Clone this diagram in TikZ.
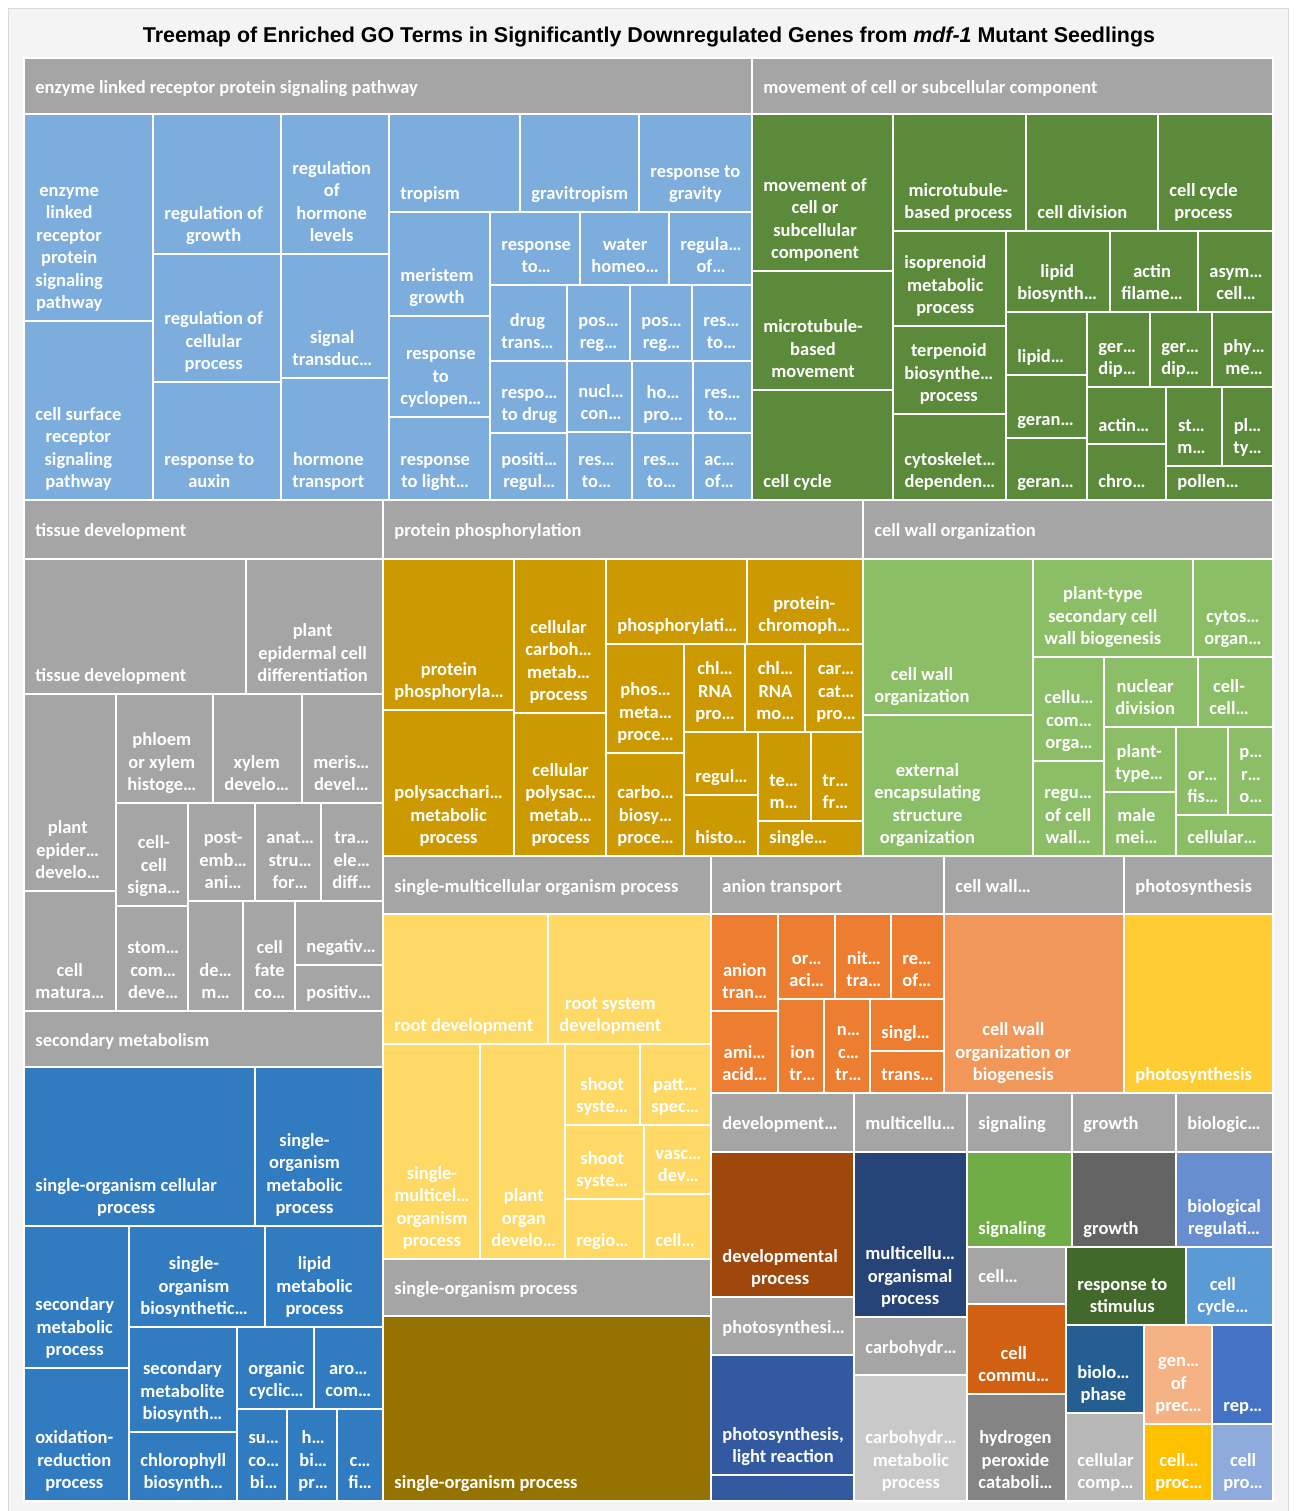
\documentclass[tikz,border=0pt]{standalone}
\usepackage{fontspec}
\setmainfont{Carlito}
\newfontfamily\titlefont{Liberation Sans}

\definecolor{panel}{HTML}{F4F4F4}
\definecolor{rim}{HTML}{D9D9D9}
\definecolor{hdr}{HTML}{A5A5A5}
\definecolor{lb}{HTML}{7CADDC}
\definecolor{dg}{HTML}{5B8A3B}
\definecolor{gold}{HTML}{CC9A00}
\definecolor{lg}{HTML}{8BBE67}
\definecolor{yel}{HTML}{FFD966}
\definecolor{org}{HTML}{ED7D31}
\definecolor{lorg}{HTML}{F1975A}
\definecolor{byel}{HTML}{FFCD33}
\definecolor{mb}{HTML}{317BC0}
\definecolor{olive}{HTML}{967300}
\definecolor{brown}{HTML}{9E480E}
\definecolor{dblue}{HTML}{264478}
\definecolor{pblue}{HTML}{335AA0}
\definecolor{lgray}{HTML}{C9C9C9}
\definecolor{sig}{HTML}{70AD47}
\definecolor{grw}{HTML}{636363}
\definecolor{breg}{HTML}{698ED0}
\definecolor{rstim}{HTML}{43682B}
\definecolor{ccyc}{HTML}{5B9BD5}
\definecolor{comm}{HTML}{D26012}
\definecolor{hperox}{HTML}{848484}
\definecolor{bphase}{HTML}{255E91}
\definecolor{ccomp}{HTML}{B7B7B7}
\definecolor{gprec}{HTML}{F4B183}
\definecolor{rep}{HTML}{4472C4}
\definecolor{cproc}{HTML}{FFC000}
\definecolor{cpro}{HTML}{8FAADC}

\tikzset{
  tilebox/.style={draw=white, line width=1pt},
  tiletext/.style={text=white, inner sep=0pt, align=center,
    font=\bfseries\fontsize{9.25}{11.25}\selectfont},
}
\newcount\tileno
\def\leaf[#1](#2,#3)(#4,#5)#6{\global\advance\tileno by 1
  \draw[tilebox, fill=#1] (#2,#3) rectangle (#4,#5);
  \node[tiletext, anchor=south west] (leaf\the\tileno) at (#2+11,#5-6) {#6\rule[-3pt]{0pt}{3pt}};}
\def\branch(#1,#2)(#3,#4)#5{\global\advance\tileno by 1
  \draw[tilebox, fill=hdr] (#1,#2) rectangle (#3,#4);
  \node[tiletext, anchor=base west] (branch\the\tileno) at (#1+11,{(#2+#4)/2+7}) {#5};}

\begin{document}
\begin{tikzpicture}[x=0.5pt, y=-0.5pt]
			%%%%% START %%%%%
			\useasboundingbox (0,0) rectangle (1296,1511);
			\draw[fill=panel, draw=rim] (8,8) rectangle (1288,1520);
			\node[anchor=base] (title) at (649,42) {\titlefont\bfseries\fontsize{10.72}{13}\selectfont Treemap of Enriched GO Terms in Significantly Downregulated Genes from \textit{mdf-1} Mutant Seedlings};
			
			%%%%% enzyme linked receptor protein signaling pathway %%%%%
			\branch(24,58)(752,114){enzyme linked receptor protein signaling pathway}
			\leaf[lb](24,114)(153,321){enzyme\\linked\\receptor\\protein\\signaling\\pathway}
			\leaf[lb](24,321)(153,500){cell surface\\receptor\\signaling\\pathway}
			\leaf[lb](153,114)(281,254){regulation of\\growth}
			\leaf[lb](153,254)(281,382){regulation of\\cellular\\process}
			\leaf[lb](153,382)(281,500){response to\\auxin}
			\leaf[lb](281,114)(389,254){regulation\\of\\hormone\\levels}
			\leaf[lb](281,254)(389,378){signal\\transduc…}
			\leaf[lb](281,378)(389,500){hormone\\transport}
			\leaf[lb](389,114)(520,212){tropism}
			\leaf[lb](520,114)(639,212){gravitropism}
			\leaf[lb](639,114)(752,212){response to\\gravity}
			\leaf[lb](389,212)(490,316){meristem\\growth}
			\leaf[lb](389,316)(490,417){response\\to\\cyclopen…}
			\leaf[lb](389,417)(490,500){response\\to light…}
			\leaf[lb](490,212)(580,285){response\\to…}
			\leaf[lb](580,212)(669,285){water\\homeo…}
			\leaf[lb](669,212)(752,285){regula…\\of…}
			\leaf[lb](490,285)(567,361){drug\\trans…}
			\leaf[lb](567,285)(630,361){pos…\\reg…}
			\leaf[lb](630,285)(692,361){pos…\\reg…}
			\leaf[lb](692,285)(752,361){res…\\to…}
			\leaf[lb](490,361)(567,433){respo…\\to drug}
			\leaf[lb](490,433)(567,500){positi…\\regul…}
			\leaf[lb](567,361)(632,432){nucl…\\con…}
			\leaf[lb](567,432)(632,500){res…\\to…}
			\leaf[lb](632,361)(693,433){ho…\\pro…}
			\leaf[lb](632,433)(693,500){res…\\to…}
			\leaf[lb](693,361)(752,433){res…\\to…}
			\leaf[lb](693,433)(752,500){ac…\\of…}
			
			%%%%% movement of cell or subcellular component %%%%%
			\branch(752,58)(1273,114){movement of cell or subcellular component}
			\leaf[dg](752,114)(893,271){movement of\\cell or\\subcellular\\component}
			\leaf[dg](752,271)(893,390){microtubule-\\based\\movement}
			\leaf[dg](752,390)(893,500){cell cycle}
			\leaf[dg](893,114)(1026,231){microtubule-\\based process}
			\leaf[dg](1026,114)(1158,231){cell division}
			\leaf[dg](1158,114)(1273,231){cell cycle\\process}
			\leaf[dg](893,231)(1006,326){isoprenoid\\metabolic\\process}
			\leaf[dg](893,326)(1006,414){terpenoid\\biosynthe…\\process}
			\leaf[dg](893,414)(1006,500){cytoskelet…\\dependen…}
			\leaf[dg](1006,231)(1110,312){lipid\\biosynth…}
			\leaf[dg](1110,231)(1198,312){actin\\filame…}
			\leaf[dg](1198,231)(1273,312){asym…\\cell…}
			\leaf[dg](1006,312)(1087,375){lipid…}
			\leaf[dg](1006,375)(1087,438){geran…}
			\leaf[dg](1006,438)(1087,500){geran…}
			\leaf[dg](1087,312)(1150,387){ger…\\dip…}
			\leaf[dg](1150,312)(1212,387){ger…\\dip…}
			\leaf[dg](1212,312)(1273,387){phy…\\me…}
			\leaf[dg](1087,387)(1166,444){actin…}
			\leaf[dg](1087,444)(1166,500){chro…}
			\leaf[dg](1166,387)(1222,466){st…\\m…}
			\leaf[dg](1222,387)(1273,466){pl…\\ty…}
			\leaf[dg](1166,466)(1273,500){pollen…}
			
			%%%%% tissue development %%%%%
			\branch(24,500)(383,559){tissue development}
			\leaf[hdr](24,559)(246,694){tissue development}
			\leaf[hdr](246,559)(383,694){plant\\epidermal cell\\differentiation}
			\leaf[hdr](24,694)(116,891){plant\\epider…\\develo…}
			\leaf[hdr](24,891)(116,1011){cell\\matura…}
			\leaf[hdr](116,694)(213,803){phloem\\or xylem\\histoge…}
			\leaf[hdr](213,694)(302,803){xylem\\develo…}
			\leaf[hdr](302,694)(383,803){meris…\\devel…}
			\leaf[hdr](116,803)(188,906){cell-\\cell\\signa…}
			\leaf[hdr](116,906)(188,1011){stom…\\com…\\deve…}
			\leaf[hdr](188,803)(255,901){post-\\emb…\\ani…}
			\leaf[hdr](255,803)(321,901){anat…\\stru…\\for…}
			\leaf[hdr](321,803)(383,901){tra…\\ele…\\diff…}
			\leaf[hdr](188,901)(243,1011){de…\\m…}
			\leaf[hdr](243,901)(295,1011){cell\\fate\\co…}
			\leaf[hdr](295,901)(383,965){negativ…}
			\leaf[hdr](295,965)(383,1011){positiv…}
			
			%%%%% protein phosphorylation %%%%%
			\branch(383,500)(863,559){protein phosphorylation}
			\leaf[gold](383,559)(514,710){protein\\phosphoryla…}
			\leaf[gold](383,710)(514,856){polysacchari…\\metabolic\\process}
			\leaf[gold](514,559)(606,713){cellular\\carboh…\\metab…\\process}
			\leaf[gold](514,713)(606,856){cellular\\polysac…\\metab…\\process}
			\leaf[gold](606,559)(747,644){phosphorylati…}
			\leaf[gold](747,559)(863,644){protein-\\chromoph…}
			\leaf[gold](606,644)(684,753){phos…\\meta…\\proce…}
			\leaf[gold](606,753)(684,856){carbo…\\biosy…\\proce…}
			\leaf[gold](684,644)(745,732){chl…\\RNA\\pro…}
			\leaf[gold](745,644)(805,732){chl…\\RNA\\mo…}
			\leaf[gold](805,644)(863,732){car…\\cat…\\pro…}
			\leaf[gold](684,732)(758,795){regul…}
			\leaf[gold](684,795)(758,856){histo…}
			\leaf[gold](758,732)(811,821){te…\\m…}
			\leaf[gold](811,732)(863,821){tr…\\fr…}
			\leaf[gold](758,821)(863,856){single…}
			
			%%%%% cell wall organization %%%%%
			\branch(863,500)(1273,559){cell wall organization}
			\leaf[lg](863,559)(1033,715){cell wall\\organization}
			\leaf[lg](863,715)(1033,856){external\\encapsulating\\structure\\organization}
			\leaf[lg](1033,559)(1193,657){plant-type\\secondary cell\\wall biogenesis}
			\leaf[lg](1193,559)(1273,657){cytos…\\organ…}
			\leaf[lg](1033,657)(1104,761){cellu…\\com…\\orga…}
			\leaf[lg](1033,761)(1104,856){regu…\\of cell\\wall…}
			\leaf[lg](1104,657)(1198,727){nuclear\\division}
			\leaf[lg](1198,657)(1273,727){cell-\\cell…}
			\leaf[lg](1104,727)(1176,792){plant-\\type…}
			\leaf[lg](1104,792)(1176,856){male\\mei…}
			\leaf[lg](1176,727)(1228,815){or…\\fis…}
			\leaf[lg](1228,727)(1273,815){p…\\r…\\o…}
			\leaf[lg](1176,815)(1273,856){cellular…}
			
			%%%%% single-multicellular organism process %%%%%
			\branch(383,856)(711,914){single-multicellular organism process}
			\leaf[yel](383,914)(548,1044){root development}
			\leaf[yel](548,914)(711,1044){root system\\development}
			\leaf[yel](383,1044)(480,1259){single-\\multicel…\\organism\\process}
			\leaf[yel](480,1044)(565,1259){plant\\organ\\develo…}
			\leaf[yel](565,1044)(640,1125){shoot\\syste…}
			\leaf[yel](640,1044)(711,1125){patt…\\spec…}
			\leaf[yel](565,1125)(644,1199){shoot\\syste…}
			\leaf[yel](565,1199)(644,1259){regio…}
			\leaf[yel](644,1125)(711,1194){vasc…\\dev…}
			\leaf[yel](644,1194)(711,1259){cell…}
			
			%%%%% single-organism process %%%%%
			\branch(383,1259)(711,1316){single-organism process}
			\leaf[olive](383,1316)(711,1501){single-organism process}
			
			%%%%% anion transport %%%%%
			\branch(711,856)(944,914){anion transport}
			\leaf[org](711,914)(778,1011){anion\\tran…}
			\leaf[org](711,1011)(778,1093){ami…\\acid…}
			\leaf[org](778,914)(835,999){or…\\aci…}
			\leaf[org](835,914)(891,999){nit…\\tra…}
			\leaf[org](891,914)(944,999){re…\\of…}
			\leaf[org](778,999)(824,1093){ion\\tr…}
			\leaf[org](824,999)(870,1093){n…\\c…\\tr…}
			\leaf[org](870,999)(944,1051){singl…}
			\leaf[org](870,1051)(944,1093){trans…}
			
			%%%%% cell wall / photosynthesis %%%%%
			\branch(944,856)(1124,914){cell wall…}
			\leaf[lorg](944,914)(1124,1093){cell wall\\organization or\\biogenesis}
			\branch(1124,856)(1273,914){photosynthesis}
			\leaf[byel](1124,914)(1273,1093){photosynthesis}
			
			%%%%% secondary metabolism %%%%%
			\branch(24,1011)(383,1067){secondary metabolism}
			\leaf[mb](24,1067)(255,1226){single-organism cellular\\process}
			\leaf[mb](255,1067)(383,1226){single-\\organism\\metabolic\\process}
			\leaf[mb](24,1226)(129,1368){secondary\\metabolic\\process}
			\leaf[mb](24,1368)(129,1501){oxidation-\\reduction\\process}
			\leaf[mb](129,1226)(265,1327){single-\\organism\\biosynthetic…}
			\leaf[mb](265,1226)(383,1327){lipid\\metabolic\\process}
			\leaf[mb](129,1327)(237,1432){secondary\\metabolite\\biosynth…}
			\leaf[mb](129,1432)(237,1501){chlorophyll\\biosynth…}
			\leaf[mb](237,1327)(314,1409){organic\\cyclic…}
			\leaf[mb](314,1327)(383,1409){aro…\\com…}
			\leaf[mb](237,1409)(287,1501){su…\\co…\\bi…}
			\leaf[mb](287,1409)(337,1501){h…\\bi…\\pr…}
			\leaf[mb](337,1409)(383,1501){c…\\fi…}
			
			%%%%% small groups, bottom right %%%%%
			\branch(711,1093)(854,1152){development…}
			\leaf[brown](711,1152)(854,1297){developmental\\process}
			\branch(711,1297)(854,1355){photosynthesi…}
			\leaf[pblue](711,1355)(854,1475){photosynthesis,\\light reaction}
			\draw[tilebox, fill=pblue] (711,1475) rectangle (854,1501);
			
			\branch(854,1093)(967,1152){multicellu…}
			\leaf[dblue](854,1152)(967,1317){multicellu…\\organismal\\process}
			\branch(854,1317)(967,1375){carbohydr…}
			\leaf[lgray](854,1375)(967,1501){carbohydr…\\metabolic\\process}
			
			\branch(967,1093)(1072,1152){signaling}
			\leaf[sig](967,1152)(1072,1247){signaling}
			\branch(1072,1093)(1176,1152){growth}
			\leaf[grw](1072,1152)(1176,1247){growth}
			\branch(1176,1093)(1273,1152){biologic…}
			\leaf[breg](1176,1152)(1273,1247){biological\\regulati…}
			
			\branch(967,1247)(1066,1304){cell…}
			\leaf[comm](967,1304)(1066,1394){cell\\commu…}
			\leaf[hperox](967,1394)(1066,1501){hydrogen\\peroxide\\cataboli…}
			\leaf[rstim](1066,1247)(1186,1325){response to\\stimulus}
			\leaf[ccyc](1186,1247)(1273,1325){cell\\cycle…}
			\leaf[bphase](1066,1325)(1144,1413){biolo…\\phase}
			\leaf[ccomp](1066,1413)(1144,1501){cellular\\comp…}
			\leaf[gprec](1144,1325)(1212,1424){gen…\\of\\prec…}
			\leaf[rep](1212,1325)(1273,1424){rep…}
			\leaf[cproc](1144,1424)(1212,1501){cell…\\proc…}
			\leaf[cpro](1212,1424)(1273,1501){cell\\pro…}
			%%%%% END %%%%%
\end{tikzpicture}
\end{document}
